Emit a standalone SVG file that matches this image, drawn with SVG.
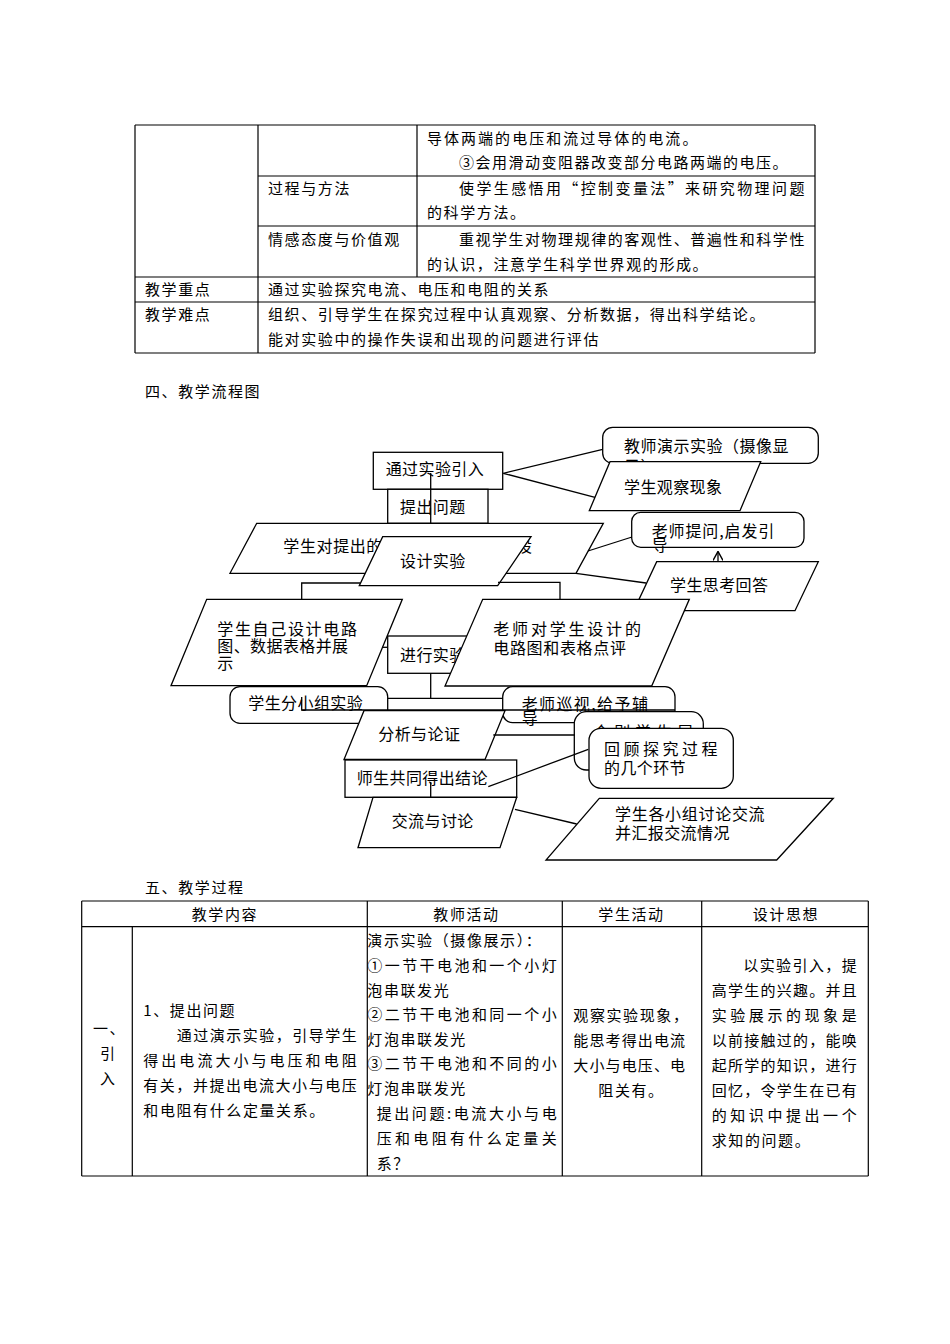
<svg xmlns="http://www.w3.org/2000/svg" width="950" height="1344" viewBox="0 0 950 1344">
<style>
.t{font-family:"Noto Sans CJK SC","Noto Sans",sans-serif;font-size:15px;letter-spacing:1.6px;fill:#000}
.f{font-family:"Noto Sans CJK SC","Noto Sans",sans-serif;font-size:16px;letter-spacing:0.4px;fill:#000}
.tl{stroke:#000;stroke-width:1.2;fill:none}
.box{fill:#fff;stroke:#000;stroke-width:1.3}
.ln{stroke:#000;stroke-width:1.3;fill:none}
</style>
<defs>
<marker id="open" viewBox="0 0 10 10" refX="9" refY="5" markerWidth="10" markerHeight="10" markerUnits="userSpaceOnUse" orient="auto">
<path d="M0,0 L9,5 L0,10" fill="none" stroke="#000" stroke-width="1.5"/>
</marker>
</defs>
<rect width="950" height="1344" fill="#fff"/>

<g id="top-table">
<path class="tl" d="M135,125H815M258,176H815M258,226H815M135,277H815M135,302H815M135,353H815M135,125V353M258,125V353M417,125V277M815,125V353"/>
<text class="t" x="427" y="143.5" textLength="272" lengthAdjust="spacing">导体两端的电压和流过导体的电流。</text>
<text class="t" x="459" y="167.5" textLength="330" lengthAdjust="spacing">③会用滑动变阻器改变部分电路两端的电压。</text>
<text class="t" x="268" y="193.5">过程与方法</text>
<text class="t" x="459" y="193.5" textLength="347" lengthAdjust="spacing">使学生感悟用“控制变量法”来研究物理问题</text>
<text class="t" x="427" y="217.5">的科学方法。</text>
<text class="t" x="268" y="244.5">情感态度与价值观</text>
<text class="t" x="459" y="244.5" textLength="347" lengthAdjust="spacing">重视学生对物理规律的客观性、普遍性和科学性</text>
<text class="t" x="427" y="269.5">的认识，注意学生科学世界观的形成。</text>
<text class="t" x="145" y="294.5">教学重点</text>
<text class="t" x="268" y="294.5">通过实验探究电流、电压和电阻的关系</text>
<text class="t" x="145" y="319.5">教学难点</text>
<text class="t" x="268" y="319.5">组织、引导学生在探究过程中认真观察、分析数据，得出科学结论。</text>
<text class="t" x="268" y="344.5">能对实验中的操作失误和出现的问题进行评估</text>
</g>

<text class="t" x="145" y="397">四、教学流程图</text>
<text class="t" x="145" y="893">五、教学过程</text>

<g id="flowchart">
<g id="n1"><rect class="box" x="373.3" y="452.3" width="129.4" height="37"/><text class="f" x="385.7" y="475">通过实验引入</text></g>
<g id="n2"><rect class="box" x="387.7" y="489.3" width="100.3" height="34"/><text class="f" x="400" y="512.5">提出问题</text></g>
<g id="n-demo"><rect class="box" x="602.7" y="427.3" width="215.6" height="36" rx="10"/><text class="f" x="624" y="452" textLength="165" lengthAdjust="spacing">教师演示实验（摄像显</text><text class="f" x="624" y="472">示）</text></g>
<g id="n-observe"><polygon class="box" points="610,461.7 760.7,461.7 740,510.7 589.3,510.7"/><text class="f" x="624" y="493">学生观察现象</text></g>
<g id="n3"><polygon class="box" points="256.7,523.3 603.3,523.3 576,573.3 230,573.3"/><text class="f" x="283.3" y="552" textLength="249" lengthAdjust="spacing">学生对提出的问题进行猜想与假设</text></g>
<g id="n4"><polygon class="box" points="382.7,536.7 531,536.7 497.7,585.7 359.3,585.7"/><text class="f" x="400" y="567">设计实验</text></g>
<g id="n-ask"><rect class="box" x="631.7" y="512.3" width="172.3" height="35" rx="9"/><text class="f" x="651.7" y="537" textLength="123" lengthAdjust="spacing">老师提问,启发引</text><text class="f" x="651.7" y="551">导</text></g>
<g id="n-answer"><polygon class="box" points="656.7,561.7 818.3,561.7 795,610.7 633.7,610.7"/><text class="f" x="670" y="591">学生思考回答</text></g>
<g id="n-self"><polygon class="box" points="206.7,599.3 402.3,599.3 366.7,685.7 171,685.7"/><text class="f" x="217.3" y="635" textLength="140" lengthAdjust="spacing">学生自己设计电路</text><text class="f" x="217.3" y="652">图、数据表格并展</text><text class="f" x="217.3" y="668.5">示</text></g>
<g id="n-exp"><rect class="box" x="387.7" y="636" width="100.3" height="37.3"/><text class="f" x="400" y="660.7">进行实验</text></g>
<g id="n-comment"><polygon class="box" points="482.7,599.3 689.3,599.3 651.7,686 445,686"/><text class="f" x="493.3" y="635" textLength="148" lengthAdjust="spacing">老师对学生设计的</text><text class="f" x="493.3" y="653.5" textLength="133" lengthAdjust="spacing">电路图和表格点评</text></g>
<g id="n-group"><rect class="box" x="230" y="686.7" width="157.7" height="36.6" rx="10"/><text class="f" x="248.3" y="709">学生分小组实验</text></g>
<g id="n-patrol"><rect class="box" x="502.7" y="686.7" width="172.3" height="36" rx="10"/><text class="f" x="521.7" y="709.5" textLength="126.6" lengthAdjust="spacing">老师巡视,给予辅</text><text class="f" x="521.7" y="724">导</text></g>
<g id="n-analysis"><polygon class="box" points="364,710.7 505,710.7 485,759.5 344,759.5"/><text class="f" x="378.3" y="740">分析与论证</text></g>
<g id="n-show"><rect class="box" x="574.3" y="711.7" width="129" height="58.3" rx="12"/><text class="f" x="593.3" y="738" textLength="100" lengthAdjust="spacing">个别学生展</text></g>
<g id="n-review"><rect class="box" x="589" y="728.3" width="144.3" height="60" rx="12"/><text class="f" x="604" y="755" textLength="114" lengthAdjust="spacing">回顾探究过程</text><text class="f" x="604" y="774">的几个环节</text></g>
<g id="n-conclude"><rect class="box" x="345" y="760" width="171.7" height="37.3"/><text class="f" x="356.7" y="783.5">师生共同得出结论</text></g>
<g id="n-discuss"><polygon class="box" points="373,797.3 516.7,797.3 500,847.7 358,847.7"/><text class="f" x="391.7" y="826.5">交流与讨论</text></g>
<g id="n-report"><polygon class="box" points="599.3,798.3 833.3,798.3 776.7,860 546,860"/><text class="f" x="615" y="820" textLength="150" lengthAdjust="spacing">学生各小组讨论交流</text><text class="f" x="615" y="839">并汇报交流情况</text></g>
</g>

<g id="connectors">
<path class="ln" d="M430.7,473V523.3"/>
<path class="ln" d="M503.3,473.3L602.7,449.3"/>
<path class="ln" d="M503.3,473.3L595,497.3"/>
<path class="ln" d="M588,551L632,537"/>
<path class="ln" d="M576,573.3L646,583"/>
<path class="ln" d="M718,562V551.5" marker-end="url(#open)"/>
<path class="ln" d="M301.7,599.3V583H360"/>
<path class="ln" d="M498,582.3H560V599.3"/>
<path class="ln" d="M382.3,647.3H387.7"/>
<path class="ln" d="M430.7,673.3V698.3M387.7,698.3H502.7"/>
<path class="ln" d="M301.7,697V710H675"/>
<path class="ln" d="M493.3,735H575"/>
<path class="ln" d="M588.3,749.3L488.3,786.7"/>
<path class="ln" d="M430.7,782V797.3"/>
<path class="ln" d="M515,809.3L576.7,824"/>
</g>

<g id="bottom-table">
<path class="tl" d="M81.7,901H868.3M81.7,926.7H868.3M81.7,1176H868.3M81.7,901V1176M132.3,926.7V1176M367.3,901V1176M562.3,901V1176M701.7,901V1176M868.3,901V1176"/>
<text class="t" x="191.7" y="920">教学内容</text>
<text class="t" x="433.3" y="920">教师活动</text>
<text class="t" x="598.3" y="920">学生活动</text>
<text class="t" x="752.7" y="920">设计思想</text>

<text class="t" x="93" y="1034">一、</text>
<text class="t" x="100" y="1059">引</text>
<text class="t" x="100" y="1084">入</text>

<text class="t" x="143.3" y="1016">1、提出问题</text>
<text class="t" x="176.7" y="1041" textLength="181.6" lengthAdjust="spacing">通过演示实验，引导学生</text>
<text class="t" x="143.3" y="1066" textLength="215" lengthAdjust="spacing">得出电流大小与电压和电阻</text>
<text class="t" x="143.3" y="1091" textLength="215" lengthAdjust="spacing">有关，并提出电流大小与电压</text>
<text class="t" x="143.3" y="1116">和电阻有什么定量关系。</text>

<text class="t" x="367.3" y="946">演示实验（摄像展示）：</text>
<text class="t" x="367.3" y="971" textLength="191" lengthAdjust="spacing">①一节干电池和一个小灯</text>
<text class="t" x="367.3" y="996">泡串联发光</text>
<text class="t" x="367.3" y="1020" textLength="191" lengthAdjust="spacing">②二节干电池和同一个小</text>
<text class="t" x="367.3" y="1045">灯泡串联发光</text>
<text class="t" x="367.3" y="1069" textLength="191" lengthAdjust="spacing">③二节干电池和不同的小</text>
<text class="t" x="367.3" y="1094">灯泡串联发光</text>
<text class="t" x="376.7" y="1119" textLength="181.6" lengthAdjust="spacing">提出问题:电流大小与电</text>
<text class="t" x="376.7" y="1144" textLength="181.6" lengthAdjust="spacing">压和电阻有什么定量关</text>
<text class="t" x="376.7" y="1169">系？</text>

<text class="t" x="573.3" y="1021">观察实验现象，</text>
<text class="t" x="573.3" y="1046" textLength="113.4" lengthAdjust="spacing">能思考得出电流</text>
<text class="t" x="573.3" y="1071" textLength="113.4" lengthAdjust="spacing">大小与电压、电</text>
<text class="t" x="598.3" y="1096">阻关有。</text>

<text class="t" x="743.3" y="971" textLength="115" lengthAdjust="spacing">以实验引入，提</text>
<text class="t" x="711.7" y="996" textLength="146.6" lengthAdjust="spacing">高学生的兴趣。并且</text>
<text class="t" x="711.7" y="1021" textLength="146.6" lengthAdjust="spacing">实验展示的现象是</text>
<text class="t" x="711.7" y="1046" textLength="146.6" lengthAdjust="spacing">以前接触过的，能唤</text>
<text class="t" x="711.7" y="1071" textLength="146.6" lengthAdjust="spacing">起所学的知识，进行</text>
<text class="t" x="711.7" y="1096" textLength="146.6" lengthAdjust="spacing">回忆，令学生在已有</text>
<text class="t" x="711.7" y="1121" textLength="146.6" lengthAdjust="spacing">的知识中提出一个</text>
<text class="t" x="711.7" y="1146">求知的问题。</text>
</g>
</svg>
